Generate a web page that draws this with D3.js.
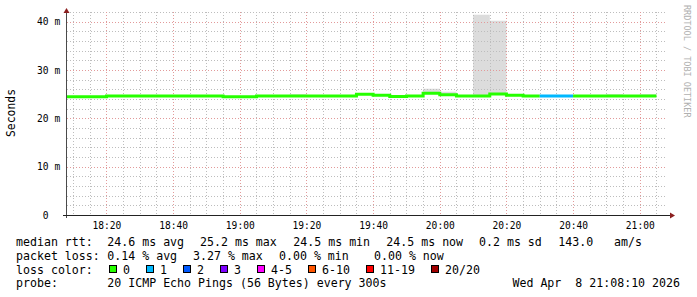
<!DOCTYPE html>
<html lang="en">
<head>
<meta charset="UTF-8">
<title>SmokePing median rtt</title>
<script src="https://d3js.org/d3.v7.min.js"></script>
<style>
  body { margin: 0; background: #fff; }
  svg { display: block; font-family: "DejaVu Sans Mono", monospace; }
  svg text { white-space: pre; }
</style>
</head>
<body>
<div id="chart"></div>
<script>
// one entry per 5 minute rrd step (start of the step)
const slotStart = ["18:05","18:10","18:15","18:20","18:25","18:30","18:35","18:40","18:45","18:50",
                   "18:55","19:00","19:05","19:10","19:15","19:20","19:25","19:30","19:35","19:40",
                   "19:45","19:50","19:55","20:00","20:05","20:10","20:15","20:20","20:25","20:30",
                   "20:35","20:40","20:45","20:50","20:55","21:00"];
// median rtt, ms
const medianMs = [24.45,24.45,24.45,24.6,24.6,24.6,24.6,24.6,24.6,24.6,
                  24.45,24.45,24.6,24.6,24.6,24.6,24.6,24.6,25.0,24.8,
                  24.5,24.6,25.2,24.9,24.6,24.6,25.05,24.8,24.6,24.6,
                  24.6,24.6,24.6,24.6,24.6,24.6];
// top of the smoke (slowest ping), ms
const smokeTopMs = [24.6,24.6,24.6,24.8,24.8,24.8,24.8,24.8,24.8,24.8,
                    24.6,24.6,24.8,24.8,25.0,24.8,24.8,24.8,25.2,25.0,
                    24.7,24.8,26.1,25.5,24.8,41.45,40.2,25.0,24.8,24.8,
                    24.8,24.8,24.8,25.0,24.8,25.0];
// lost pings out of 20
const lostPings = [0,0,0,0,0,0,0,0,0,0, 0,0,0,0,0,0,0,0,0,0, 0,0,0,0,0,0,0,0,0,1, 1,0,0,0,0,0];

const lossLabels = ["0","1","2","3","4-5","6-10","11-19","20/20"];
const lossUpTo   = [0, 1, 2, 3, 5, 10, 19, 20];
const lossColors = ["#26ff00","#00b8ff","#0059ff","#7e00ff","#ff00ff","#ff5500","#ff0000","#a10000"];

const yTicksMs = [0, 10, 20, 30, 40];

const rttLegend  = ["median rtt:", "24.6 ms avg", "25.2 ms max", "24.5 ms min", "24.5 ms now", "0.2 ms sd", "143.0", "am/s"];
const lossLegend = ["packet loss:", "0.14 % avg", "3.27 % max", "0.00 % min", "0.00 % now"];
const probeText  = "20 ICMP Echo Pings (56 Bytes) every 300s";
const stampText  = "Wed Apr  8 21:08:10 2026";

const W = 697, H = 297;
const plotL = 67, plotR = 667, plotT = 12, plotB = 215;

const day = (hm) => { const [h, m] = hm.split(":").map(Number); return new Date(2026, 3, 8, h, m, 0); };
const tStart = new Date(2026, 3, 8, 18, 8, 10);
const tEnd = new Date(2026, 3, 8, 21, 8, 10);

const x = d3.scaleTime().domain([tStart, tEnd]).range([plotL, plotR]);
const y = d3.scaleLinear().domain([0, 42]).range([plotB, plotT]);

const svg = d3.select("#chart").append("svg").attr("width", W).attr("height", H);
svg.append("rect").attr("width", W).attr("height", H).attr("fill", "#fff");

svg.append("clipPath").attr("id", "plot")
  .append("rect").attr("x", plotL).attr("y", plotT - 1).attr("width", plotR - plotL).attr("height", plotB - plotT + 1);

const slots = slotStart.map((s, i) => ({
  t0: day(s), t1: d3.timeMinute.offset(day(s), 5),
  med: medianMs[i], hi: smokeTopMs[i], lost: lostPings[i]
}));
const lossIdx = n => lossUpTo.findIndex(u => n <= u);
const lastSlot = slots[slots.length - 1];

// smoke
const stepPts = slots.concat([{ ...lastSlot, t0: lastSlot.t1 }]);
svg.append("path")
  .attr("clip-path", "url(#plot)")
  .attr("fill", "#dcdcdc")
  .attr("d", d3.area().curve(d3.curveStepAfter)
    .x(d => x(d.t0)).y0(d => y(d.med)).y1(d => y(d.hi))(stepPts));

// grid
const px = v => Math.round(v) + 0.5;
const grid = svg.append("g").attr("shape-rendering", "crispEdges").attr("stroke-dasharray", "1,2");
const minorT = d3.timeMinute.every(5).range(tStart, tEnd).filter(t => t.getMinutes() % 20 !== 0);
const majorT = d3.timeMinute.every(20).range(tStart, tEnd);
grid.selectAll(".vmin").data(minorT).join("line")
  .attr("x1", d => px(x(d))).attr("x2", d => px(x(d))).attr("y1", plotT).attr("y2", plotB)
  .attr("stroke", "#bdbdbd");
const minorY = d3.range(2, 43, 2).filter(v => v % 10 !== 0);
grid.selectAll(".hmin").data(minorY).join("line")
  .attr("x1", plotL).attr("x2", plotR).attr("y1", d => px(y(d))).attr("y2", d => px(y(d)))
  .attr("stroke", "#bdbdbd");
grid.selectAll(".vmaj").data(majorT).join("line")
  .attr("x1", d => px(x(d))).attr("x2", d => px(x(d))).attr("y1", plotT).attr("y2", plotB)
  .attr("stroke", "#e29a9a");
grid.selectAll(".hmaj").data(yTicksMs.filter(v => v > 0)).join("line")
  .attr("x1", plotL).attr("x2", plotR).attr("y1", d => px(y(d))).attr("y2", d => px(y(d)))
  .attr("stroke", "#e29a9a");

// median line, one path per run of the same loss colour
const runs = [];
slots.forEach(d => {
  const c = lossIdx(d.lost);
  const prev = runs[runs.length - 1];
  if (prev && prev.c === c) prev.pts.push(d);
  else {
    if (prev) prev.pts.push(d);
    runs.push({ c, pts: [d] });
  }
});
const lastRun = runs[runs.length - 1];
lastRun.pts.push({ ...lastSlot, t0: lastSlot.t1 });
const medLine = d3.line().curve(d3.curveStepAfter).x(d => x(d.t0)).y(d => y(d.med));
svg.append("g").attr("clip-path", "url(#plot)")
  .selectAll("path").data(runs).join("path")
  .attr("fill", "none").attr("stroke", d => lossColors[d.c]).attr("stroke-width", 3)
  .attr("d", d => medLine(d.pts));

// axes
svg.append("line").attr("x1", 66.5).attr("x2", 66.5).attr("y1", 218).attr("y2", 11)
  .attr("stroke", "#4a4a4a").attr("shape-rendering", "crispEdges");
svg.append("line").attr("x1", 63).attr("x2", 670).attr("y1", 215.5).attr("y2", 215.5)
  .attr("stroke", "#222").attr("shape-rendering", "crispEdges");
svg.append("path").attr("d", "M66.5,8L63.5,13L69.5,13Z").attr("fill", "#8b1f1f");
svg.append("path").attr("d", "M675,215.5L670,212.5L670,218.5Z").attr("fill", "#8b1f1f");

// tick labels
const xAxis = d3.axisBottom(x).tickValues(majorT).tickFormat(d3.timeFormat("%H:%M")).tickSize(0).tickPadding(0);
const xg = svg.append("g").attr("transform", "translate(0,228.5)").call(xAxis);
xg.select(".domain").remove();
xg.selectAll("text").attr("dy", null).attr("y", 0)
  .attr("font-family", "DejaVu Sans Mono").attr("font-size", 9.6).attr("fill", "#000");

const yl = svg.append("g").attr("font-size", 9.6);
yl.selectAll("text.num").data(yTicksMs).join("text").attr("class", "num")
  .attr("x", 48.5).attr("y", d => y(d) + 3.5).attr("text-anchor", "end").attr("fill", "#000").text(d => d);
yl.selectAll("text.unit").data(yTicksMs.filter(v => v > 0)).join("text").attr("class", "unit")
  .attr("x", 54.5).attr("y", d => y(d) + 3.5).attr("fill", "#000").text("m");

svg.append("text").attr("transform", "translate(14.5,113) rotate(-90)")
  .attr("text-anchor", "middle").attr("font-size", 11.4).attr("fill", "#000").text("Seconds");

svg.append("text").attr("transform", "translate(684,5) rotate(90)")
  .attr("font-size", 8.5).attr("fill", "#b0b0b0").text("RRDTOOL / TOBI OETIKER");

// legend
const lg = svg.append("g").attr("font-size", 11.6).attr("fill", "#000");
const rttCols = [16, 107.3, 200, 293.3, 386.3, 479, 558.3, 614];
lg.selectAll("text.rtt").data(rttLegend).join("text").attr("class", "rtt")
  .attr("x", (d, i) => rttCols[i]).attr("y", 245.5).text(d => d);
const lossCols = [16, 107.3, 193, 279, 374];
lg.selectAll("text.loss").data(lossLegend).join("text").attr("class", "loss")
  .attr("x", (d, i) => lossCols[i]).attr("y", 259.5).text(d => d);

lg.append("text").attr("x", 16).attr("y", 273.5).text("loss color:");
const charW = 7.0;
let bx = 108.5;
lossLabels.forEach((lab, i) => {
  lg.append("rect").attr("x", Math.round(bx) + 0.5).attr("y", 265.5).attr("width", 7).attr("height", 7)
    .attr("fill", lossColors[i]).attr("stroke", "#000").attr("stroke-width", 1);
  lg.append("text").attr("x", bx + 14.6).attr("y", 273.5).text(lab);
  bx += 14.6 + lab.length * charW + 15.4;
});

lg.append("text").attr("x", 16).attr("y", 287).text("probe:");
lg.append("text").attr("x", 107.3).attr("y", 287).text(probeText);
lg.append("text").attr("x", 680).attr("y", 287).attr("text-anchor", "end").text(stampText);
</script>
</body>
</html>
